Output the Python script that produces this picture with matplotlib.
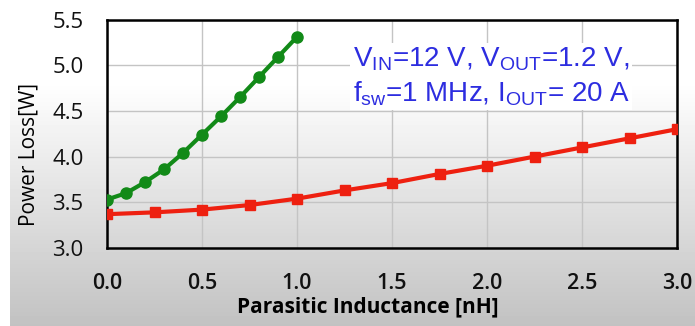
import numpy as np
import matplotlib
matplotlib.use("Agg")
import matplotlib.pyplot as plt

# Power loss versus parasitic inductance for two layouts
x_green = [0.0, 0.1, 0.2, 0.3, 0.4, 0.5, 0.6, 0.7, 0.8, 0.9, 1.0]
loss_green = [3.53, 3.60, 3.72, 3.86, 4.04, 4.24, 4.44, 4.65, 4.87, 5.09, 5.31]

x_red = [0.0, 0.25, 0.5, 0.75, 1.0, 1.25, 1.5, 1.75, 2.0, 2.25, 2.5, 2.75, 3.0]
loss_red = [3.37, 3.39, 3.42, 3.47, 3.54, 3.63, 3.71, 3.81, 3.90, 4.00, 4.10, 4.20, 4.30]

x_ticks = [0.0, 0.5, 1.0, 1.5, 2.0, 2.5, 3.0]
y_ticks = [3.0, 3.5, 4.0, 4.5, 5.0, 5.5]

plt.rcParams["mathtext.fontset"] = "custom"
plt.rcParams["mathtext.rm"] = "Liberation Sans"

fig = plt.figure(figsize=(6.95, 3.26), dpi=100)

# soft white-to-grey backdrop with a white margin on the left
bg = fig.add_axes([0, 0, 1, 1], zorder=-10)
rows = np.linspace(0, 1, 326)
shade = np.where(rows < 0.25, 1.0, 1.0 - (rows - 0.25) / 0.75 * 0.24)
img = np.repeat(shade[:, None], 695, axis=1)
img[:, :10] = 1.0
bg.imshow(img, cmap="gray", vmin=0, vmax=1, aspect="auto", interpolation="bilinear")
bg.set_axis_off()

ax = fig.add_axes([107 / 695, 1 - 248 / 326, 570 / 695, (248 - 19.5) / 326])
ax.patch.set_alpha(0)

ax.plot(x_red, loss_red, color="#ee2010", lw=3.0, marker="s", ms=7, zorder=3)
ax.plot(x_green, loss_green, color="#128a18", lw=3.0, marker="o", ms=8, zorder=4)

ax.set_xlim(0, 3.0)
ax.set_ylim(3.0, 5.5)
ax.set_xticks(x_ticks)
ax.set_yticks(y_ticks)
ax.set_xticklabels([f"{v:.1f}" for v in x_ticks], fontfamily="Open Sans",
                   fontsize=15.5, fontweight="semibold")
ax.set_yticklabels([f"{v:.1f}" for v in y_ticks], fontfamily="Open Sans", fontsize=16)
ax.tick_params(length=0, pad=17, colors="#111111")
ax.tick_params(axis="x", pad=18)
ax.grid(True, color="#c4c4c4", lw=1.0)
ax.set_axisbelow(True)
for s in ax.spines.values():
    s.set_color("black")
    s.set_linewidth(1.8)

ax.set_ylabel("Power Loss[W]", fontfamily="Open Sans", fontsize=15)
ax.yaxis.set_label_coords(-67 / 570, 0.41)
ax.set_xlabel("Parasitic Inductance [nH]", fontfamily="Open Sans", fontsize=15,
              fontweight="bold")
ax.xaxis.set_label_coords(0.458, -0.212)

label = ("V$_{\\rm IN}$=12 V, V$_{\\rm OUT}$=1.2 V,\n"
         "f$_{\\rm sw}$=1 MHz, I$_{\\rm OUT}$= 20 A")
ax.text(0.674, 0.75, label, transform=ax.transAxes, ha="center", va="center",
        fontfamily="Liberation Sans", fontsize=20, color="#2d2de0", linespacing=1.25,
        bbox=dict(facecolor="white", edgecolor="none", pad=2), zorder=5)

fig.savefig("out.png", dpi=100)
